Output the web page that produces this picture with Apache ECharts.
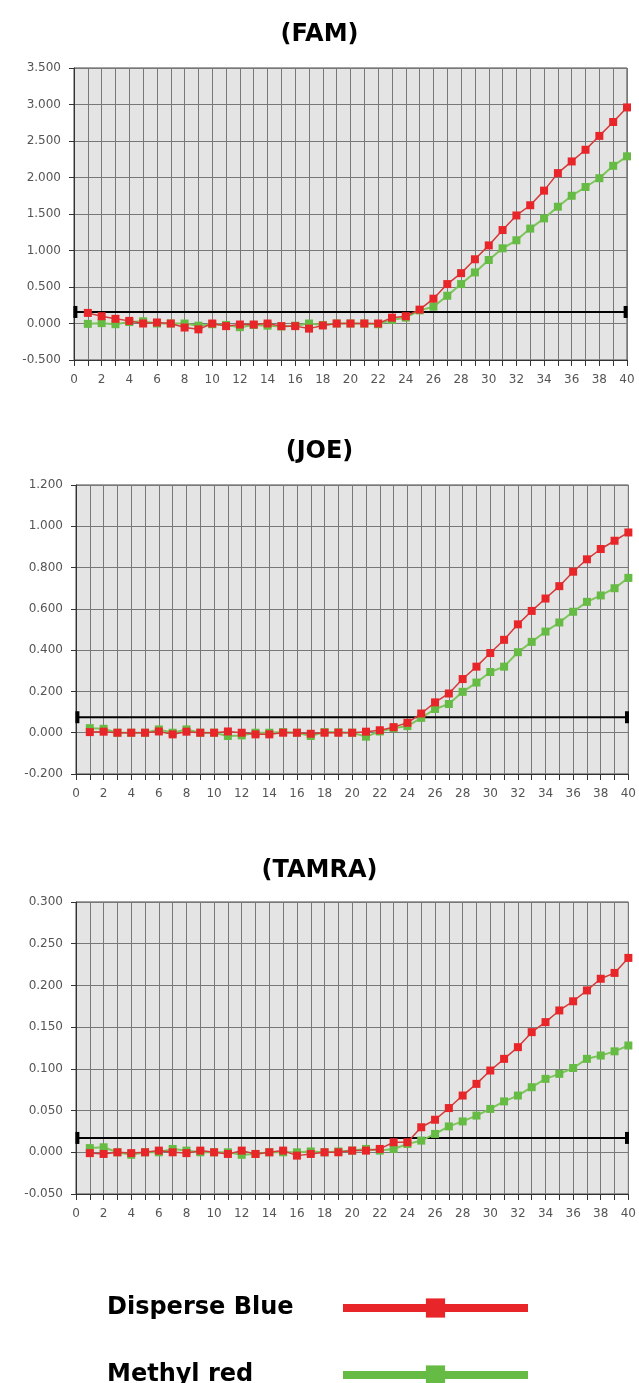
<!DOCTYPE html>
<html><head><meta charset="utf-8">
<script src="https://cdn.jsdelivr.net/npm/echarts@6/dist/echarts.min.js"></script>
<style>html,body{margin:0;padding:0;background:#fff}#c{width:639px;height:1383px}</style>
</head><body><div id="c"></div>
<script>
const cycles = [1,2,3,4,5,6,7,8,9,10,11,12,13,14,15,16,17,18,19,20,21,22,23,24,25,26,27,28,29,30,31,32,33,34,35,36,37,38,39,40];

const famDisperseBlue = [0.145,0.10,0.064,0.036,0.0,0.014,0.0,-0.055,-0.08,0.0,-0.036,-0.014,-0.014,0.0,-0.036,-0.036,-0.07,-0.027,0,0,0,0,0.08,0.10,0.19,0.34,0.54,0.69,0.88,1.07,1.28,1.48,1.62,1.82,2.06,2.22,2.38,2.57,2.76,2.96];
const famMethylRed = [-0.005,0.005,-0.01,0.02,0.03,0.0,0.0,0.0,-0.03,-0.01,-0.02,-0.05,-0.02,-0.03,-0.04,-0.03,0.0,-0.02,0,0,0,-0.01,0.05,0.08,0.18,0.23,0.38,0.54,0.70,0.87,1.03,1.14,1.30,1.44,1.60,1.75,1.87,1.99,2.16,2.29];

const joeDisperseBlue = [0.003,0.005,0,0,0,0.006,-0.008,0.005,0,0,0.006,0,-0.008,-0.008,0,0,-0.005,0,0,0,0.005,0.012,0.027,0.048,0.093,0.147,0.19,0.26,0.32,0.386,0.45,0.525,0.59,0.65,0.71,0.78,0.84,0.89,0.93,0.97];
const joeMethylRed = [0.022,0.019,0,0,0,0.016,0,0.016,0,0,-0.016,-0.013,0,0,0.003,0,-0.016,0.003,0.002,0,-0.019,0.006,0.022,0.032,0.072,0.115,0.139,0.198,0.243,0.294,0.32,0.39,0.44,0.49,0.534,0.586,0.634,0.665,0.70,0.75];

const tamraDisperseBlue = [-0.001,-0.002,0,-0.001,0,0.002,0,-0.001,0.002,0,-0.002,0.002,-0.002,0,0.002,-0.004,-0.002,0,0,0.002,0.002,0.004,0.012,0.012,0.030,0.039,0.053,0.068,0.082,0.098,0.112,0.126,0.144,0.156,0.17,0.181,0.194,0.208,0.215,0.233];
const tamraMethylRed = [0.005,0.006,0,-0.003,0,0,0.004,0.002,0,0,0,-0.003,-0.002,0,0,0,0.001,0,0.001,0.002,0.004,0.002,0.004,0.010,0.014,0.022,0.031,0.037,0.044,0.052,0.061,0.068,0.078,0.088,0.094,0.101,0.112,0.116,0.121,0.128];

const panelTitles = ['(FAM)', '(JOE)', '(TAMRA)'];
const yMins = [-0.5, -0.2, -0.05];
const yMaxs = [3.5, 1.2, 0.3];
const yIntervals = [0.5, 0.2, 0.05];
const thresholds = [0.158, 0.075, 0.0172];
const xTickLabels = [0,2,4,6,8,10,12,14,16,18,20,22,24,26,28,30,32,34,36,38,40];
const seriesNames = ['Disperse Blue', 'Methyl red'];

const blueData = [famDisperseBlue, joeDisperseBlue, tamraDisperseBlue];
const methylData = [famMethylRed, joeMethylRed, tamraMethylRed];

const grids = [
  {left: 74, right: 12, top: 68, height: 292},
  {left: 76, right: 10, top: 485, height: 289},
  {left: 76, right: 10, top: 902, height: 292}
];
const titleTops = [18, 435, 854];
const legendTops = [1291, 1358];

const RED = '#e8262a', RED_LINE = '#d33a3a', GREEN = '#66bb44', GREEN_LINE = '#7cc55a';
const FONT = 'DejaVu Sans';
const GRIDC = '#787878';

const legendColors = [RED, GREEN];

const option = {
  animation: false,
  backgroundColor: '#fff',
  title: panelTitles.map((t, i) => ({
    text: t, left: 'center', top: titleTops[i],
    textStyle: {fontFamily: FONT, fontWeight: 'bold', fontSize: 24, color: '#000'}
  })),
  grid: grids.map(g => Object.assign({show: true, backgroundColor: '#e4e4e4', borderColor: '#444', borderWidth: 1}, g)),
  xAxis: grids.map((g, i) => ({
    type: 'value', gridIndex: i, min: 0, max: 40, interval: 2,
    axisLine: {show: true, onZero: false, lineStyle: {color: '#333', width: 1}},
    axisTick: {show: true, length: 6, lineStyle: {color: '#333'}},
    minorTick: {show: true, splitNumber: 2, length: 6, lineStyle: {color: '#333'}},
    splitLine: {show: true, lineStyle: {color: GRIDC, width: 1}},
    minorSplitLine: {show: true, lineStyle: {color: GRIDC, width: 1}},
    axisLabel: {fontFamily: FONT, fontSize: 12, color: '#555', margin: 14,
      formatter: v => xTickLabels.indexOf(v) >= 0 ? String(v) : ''}
  })),
  yAxis: grids.map((g, i) => ({
    type: 'value', gridIndex: i, min: yMins[i], max: yMaxs[i], interval: yIntervals[i],
    axisLine: {show: true, onZero: false, lineStyle: {color: '#333', width: 1}},
    axisTick: {show: true, length: 5, lineStyle: {color: '#333'}},
    splitLine: {show: true, lineStyle: {color: GRIDC, width: 1}},
    axisLabel: {fontFamily: FONT, fontSize: 12, color: '#555', margin: 13,
      formatter: v => v.toFixed(3)}
  })),
  legend: seriesNames.map((n, k) => ({
    data: [{name: n, lineStyle: {color: legendColors[k], width: 8}, itemStyle: {color: legendColors[k]}}],
    orient: 'horizontal', left: 102, top: legendTops[k], align: 'right',
    itemWidth: 185, itemHeight: 24, selectedMode: false,
    formatter: name => '{t|' + name + '}',
    textStyle: {rich: {t: {width: 231, align: 'left', fontFamily: FONT, fontWeight: 'bold', fontSize: 24, color: '#000', lineHeight: 24}}}
  })),
  series: []
};

for (let i = 0; i < 3; i++) {
  option.series.push({
    name: seriesNames[1], type: 'line', xAxisIndex: i, yAxisIndex: i,
    data: cycles.map((c, j) => [c, methylData[i][j]]),
    symbol: 'rect', symbolSize: 8, showAllSymbol: true,
    lineStyle: {color: GREEN_LINE, width: 2}, itemStyle: {color: GREEN}, z: 3
  });
  option.series.push({
    name: seriesNames[0], type: 'line', xAxisIndex: i, yAxisIndex: i,
    data: cycles.map((c, j) => [c, blueData[i][j]]),
    symbol: 'rect', symbolSize: 8, showAllSymbol: true,
    lineStyle: {color: RED_LINE, width: 1.5}, itemStyle: {color: RED}, z: 4
  });
  option.series.push({
    name: 'threshold', type: 'line', xAxisIndex: i, yAxisIndex: i, silent: true,
    data: [[0.1, thresholds[i]], [39.9, thresholds[i]]],
    symbol: 'rect', symbolSize: [4, 12], showAllSymbol: true,
    lineStyle: {color: '#000', width: 2}, itemStyle: {color: '#000'}, z: 2
  });
}

const chart = echarts.init(document.getElementById('c'), null, {renderer: 'canvas'});
chart.setOption(option);
</script>
</body></html>
